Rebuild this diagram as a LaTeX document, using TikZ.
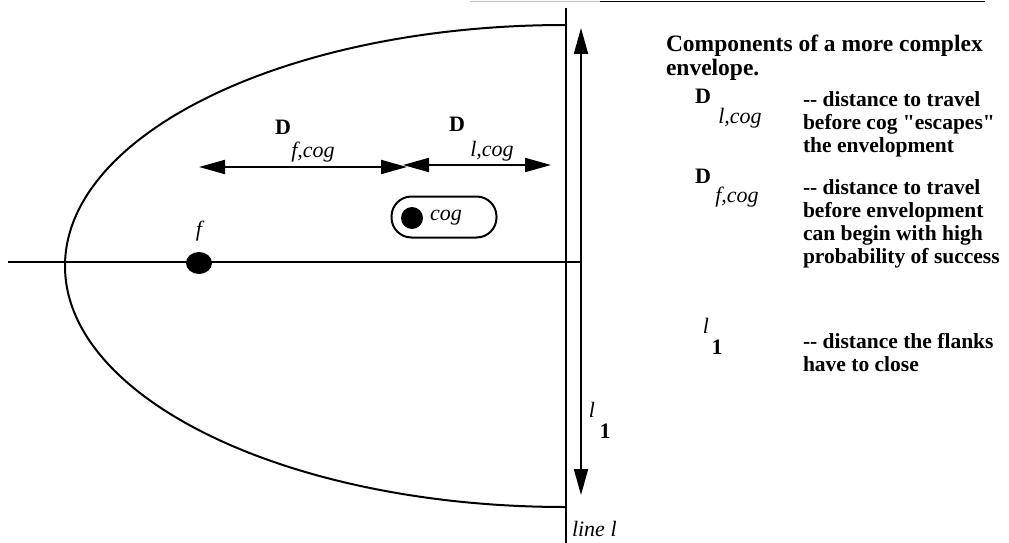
\documentclass[tikz,border=0pt]{standalone}
\usepackage{fontspec}
\setmainfont{Liberation Serif}[Ligatures=TeXOff]
\usetikzlibrary{arrows.meta,positioning}

\begin{document}
\begin{tikzpicture}[x=1pt,y=1pt,line width=2pt,
    span/.style={{Triangle[length=26pt,width=14pt]}-{Triangle[length=26pt,width=14pt]}},
    txt/.style={anchor=base west,inner sep=0pt,font=\bfseries\fontsize{21.5}{23}\selectfont},
    head/.style={anchor=base west,inner sep=0pt,font=\bfseries\fontsize{23.5}{24}\selectfont},
    sym/.style={inner sep=0pt,font=\bfseries\fontsize{22}{23}\selectfont},
    idx/.style={inner sep=0pt,font=\itshape\fontsize{22}{23}\selectfont}]
  \useasboundingbox (0,0) rectangle (1009,-543);
  % rule at the top of the page
  \draw[line width=1pt,gray!50] (470,-1.5) -- (600,-1.5);
  \draw[line width=1.2pt] (600,-1.5) -- (985,-1.5);
  % envelope and axis
  \draw (565,-25) arc[start angle=90,end angle=270,x radius=500,y radius=241];
  \coordinate (axisL) at (8,-262);
  \coordinate (axisR) at (581,-262);
  \draw (axisL) -- (axisR);
  % line l
  \coordinate (lineT) at (566,-8);
  \coordinate (lineB) at (566,-543);
  \draw (lineT) -- (lineB);
  \node[idx,anchor=base west] (linel) at (571,-536) {line l};
  % distance the flanks have to close
  \coordinate (flankT) at (581,-28);
  \coordinate (flankB) at (581,-495);
  \draw[span] (flankT) -- (flankB);
  \node[idx] (flank) at (592,-410) {l};
  \node[sym] (flanks) at (605,-431) {1};
  % f and cog
  \fill (199,-263) ellipse [x radius=13,y radius=11];
  \node[idx] (flbl) at (199,-231) {f};
  \node[draw,rounded corners=20pt,minimum width=105pt,minimum height=41pt] (cogbox) at (444,-217) {};
  \node[circle,fill,inner sep=0pt,minimum size=22pt] (cog) at (412,-218) {};
  \node[idx,right=5pt of cog] (coglbl) {cog};
  % D_f,cog and D_l,cog
  \coordinate (fA) at (199,-167);
  \coordinate (fB) at (407,-167);
  \coordinate (lA) at (403,-165);
  \coordinate (lB) at (551,-165);
  \draw[span] (fA) -- (fB);
  \draw[span] (lA) -- (lB);
  \node[sym] (Df) at (283,-127) {D};
  \node[idx] (Dfs) at (313,-152) {f,cog};
  \node[sym] (Dl) at (457,-124) {D};
  \node[idx] (Dls) at (492,-151) {l,cog};
  % legend
  \node[head] (head1) at (665,-52) {Components of a more complex};
  \node[head] (head2) at (665,-76) {envelope.};
  \node[sym] (legD1) at (703,-96) {D};
  \node[idx] (legD1s) at (740,-118) {l,cog};
  \node[txt] (a1) at (802,-106) {-- distance to travel};
  \node[txt] (a2) at (802,-129) {before cog "escapes"};
  \node[txt] (a3) at (802,-152) {the envelopment};
  \node[sym] (legD2) at (703,-176) {D};
  \node[idx] (legD2s) at (737,-197) {f,cog};
  \node[txt] (b1) at (802,-194) {-- distance to travel};
  \node[txt] (b2) at (802,-217) {before envelopment};
  \node[txt] (b3) at (802,-240) {can begin with high};
  \node[txt] (b4) at (802,-263) {probability of success};
  \node[idx] (legL) at (706,-326) {l};
  \node[sym] (legLs) at (717,-347) {1};
  \node[txt] (c1) at (802,-348) {-- distance the flanks};
  \node[txt] (c2) at (802,-371) {have to close};
\end{tikzpicture}
\end{document}
